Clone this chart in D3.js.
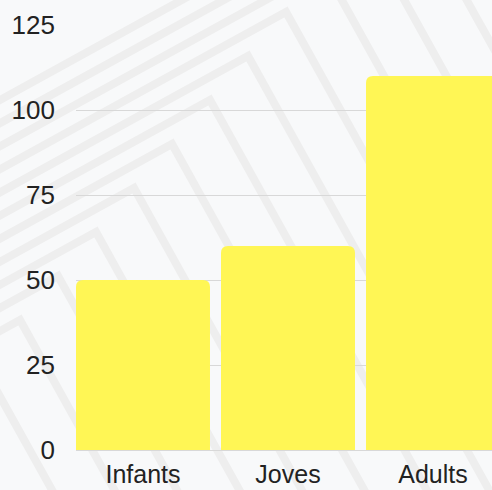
<!DOCTYPE html>
<html>
<head>
<meta charset="utf-8">
<script src="https://cdn.jsdelivr.net/npm/d3@7"></script>
<style>
  html, body { margin: 0; padding: 0; background: #f8f9fa; overflow: hidden; }
  text { font-family: "Liberation Sans", Arial, sans-serif; }
</style>
</head>
<body>
<div id="chart"></div>
<script>
// chart data
var categories = ["Infants", "Joves", "Adults"];
var values = [50, 60, 110];
var yTicks = [0, 25, 50, 75, 100, 125];

var width = 492, height = 490;
var margin = { left: 76, top: 25, bottom: 40 };

var svg = d3.select("#chart")
    .append("svg")
    .attr("width", width)
    .attr("height", height);

svg.append("rect")
    .attr("width", width)
    .attr("height", height)
    .attr("fill", "#f8f9fa");

// decorative background: nested right-angle chevrons
var bg = svg.append("g")
    .attr("fill", "none")
    .attr("stroke", "#eeeeee")
    .attr("stroke-width", 8);

var leftDir = [-1, 0.55], rightDir = [1, 1.8];
for (var i = 0; i < 16; i++) {
    var ax = 400 - i * 38;
    var ay = -120 + i * 44;
    var L = 900;
    bg.append("path")
        .attr("d", "M" + (ax + leftDir[0] * L) + "," + (ay + leftDir[1] * L) +
            "L" + ax + "," + ay +
            "L" + (ax + rightDir[0] * L / 2) + "," + (ay + rightDir[1] * L / 2));
}

var x = d3.scaleBand()
    .domain(categories)
    .range([margin.left, 500])
    .paddingInner(0.076)
    .paddingOuter(0);

var y = d3.scaleLinear()
    .domain([0, 125])
    .range([height - margin.bottom, margin.top]);

// gridlines
svg.append("g")
    .selectAll("line")
    .data(yTicks.filter(function (d) { return d < 125; }))
    .enter().append("line")
    .attr("x1", margin.left)
    .attr("x2", width)
    .attr("y1", function (d) { return Math.round(y(d)) + 0.5; })
    .attr("y2", function (d) { return Math.round(y(d)) + 0.5; })
    .attr("stroke", "#d8d8d8")
    .attr("stroke-width", 1);

// bars with rounded top corners
function topRounded(x0, y0, w, h, r) {
    return "M" + x0 + "," + (y0 + h) +
        "V" + (y0 + r) +
        "Q" + x0 + "," + y0 + " " + (x0 + r) + "," + y0 +
        "H" + (x0 + w - r) +
        "Q" + (x0 + w) + "," + y0 + " " + (x0 + w) + "," + (y0 + r) +
        "V" + (y0 + h) + "Z";
}

svg.append("g")
    .selectAll("path")
    .data(values)
    .enter().append("path")
    .attr("fill", "#fff655")
    .attr("d", function (d, i) {
        var bx = x(categories[i]);
        var by = y(d);
        return topRounded(bx, by, x.bandwidth(), y(0) - by, 7);
    });

// y axis labels
svg.append("g")
    .selectAll("text")
    .data(yTicks)
    .enter().append("text")
    .attr("x", 55)
    .attr("y", function (d) { return y(d); })
    .attr("dy", "0.35em")
    .attr("text-anchor", "end")
    .attr("font-size", 26)
    .attr("fill", "#222")
    .text(function (d) { return d; });

// category labels
svg.append("g")
    .selectAll("text")
    .data(categories)
    .enter().append("text")
    .attr("x", function (d) { return x(d) + x.bandwidth() / 2; })
    .attr("y", 483)
    .attr("text-anchor", "middle")
    .attr("font-size", 25)
    .attr("fill", "#222")
    .text(function (d) { return d; });
</script>
</body>
</html>
